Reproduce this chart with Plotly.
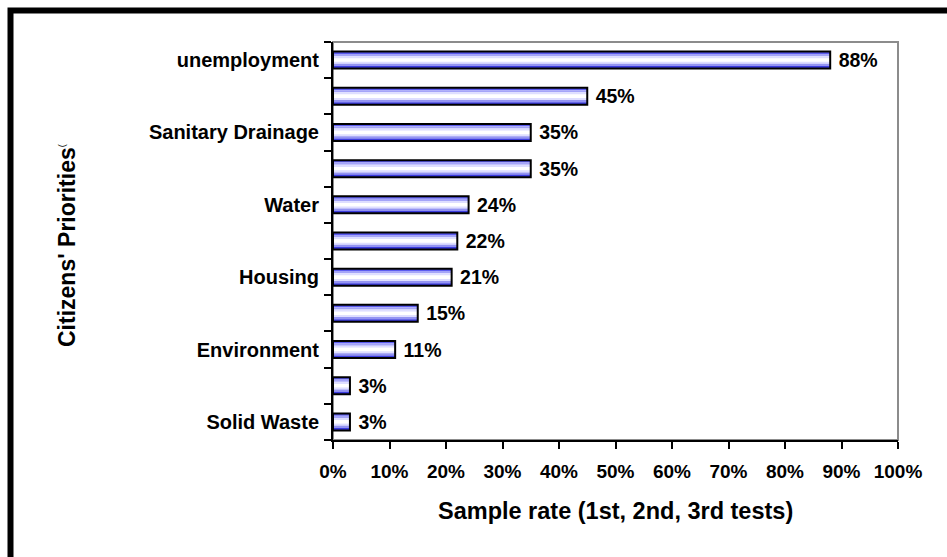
import plotly.graph_objects as go

# ---- data ----
category_ids = ["c1", "c2", "c3", "c4", "c5", "c6", "c7", "c8", "c9", "c10", "c11"]
category_labels = ["unemployment", "", "Sanitary Drainage", "", "Water", "",
                   "Housing", "", "Environment", "", "Solid Waste"]
values = [0.88, 0.45, 0.35, 0.35, 0.24, 0.22, 0.21, 0.15, 0.11, 0.03, 0.03]
x_tick_vals = [0, 0.1, 0.2, 0.3, 0.4, 0.5, 0.6, 0.7, 0.8, 0.9, 1.0]
x_title = "Sample rate (1st, 2nd, 3rd tests)"
y_title = "Citizens' Priorities"

# ---- styling ----
FONT = "Liberation Sans, Arial, sans-serif"
W = 0.47  # bar thickness in category units
# horizontal gradient stripes (top -> bottom): (start fraction, fraction, colour)
stripes = [
    (0.00, 0.14, "#5c5cf0"),
    (0.14, 0.13, "#a4a4f8"),
    (0.27, 0.13, "#dedeff"),
    (0.40, 0.20, "#ffffff"),
    (0.60, 0.12, "#dedeff"),
    (0.72, 0.13, "#9494f2"),
    (0.85, 0.15, "#3c3ce0"),
]

fig = go.Figure()
for start, frac, col in stripes:
    fig.add_trace(go.Bar(
        y=category_ids, x=values, orientation="h",
        offset=-W / 2 + start * W, width=frac * W,
        marker=dict(color=col, line=dict(width=0)),
        hoverinfo="skip", showlegend=False,
    ))

# outline + value labels
fig.add_trace(go.Bar(
    y=category_ids, x=values, orientation="h",
    offset=-W / 2, width=W,
    marker=dict(color="rgba(0,0,0,0)", line=dict(color="black", width=2)),
    texttemplate="\u00a0%{x:.0%}", textposition="outside", constraintext="none",
    textfont=dict(family=FONT, size=19.5, color="black", weight=700),
    cliponaxis=False, showlegend=False,
))

L, R, T, B = 333, 49, 42, 117
PW, PH = 947 - L - R, 557 - T - B


def px_x(p):
    return (p - L) / PW


def px_y(p):
    return 1 - (p - T) / PH


fig.update_layout(
    width=947, height=557,
    margin=dict(l=L, r=R, t=T, b=B, autoexpand=False),
    barmode="overlay",
    paper_bgcolor="white", plot_bgcolor="white",
    font=dict(family=FONT, size=19, color="black", weight=700),
    xaxis=dict(
        range=[0, 1], tickvals=x_tick_vals, tickformat=".0%",
        showgrid=False, zeroline=False,
        showline=True, linecolor="black", linewidth=2,
        ticks="outside", ticklen=7, tickwidth=2, tickcolor="black",
        ticklabelstandoff=6,
        tickfont=dict(family=FONT, size=19, color="black", weight=700),
    ),
    yaxis=dict(
        type="category", categoryorder="array", categoryarray=category_ids,
        range=[10.5, -0.5],
        tickmode="array", tickvals=category_ids, ticktext=category_labels,
        tickson="boundaries",
        showgrid=False, zeroline=False,
        showline=True, linecolor="black", linewidth=2,
        ticks="outside", ticklen=7, tickwidth=2, tickcolor="black",
        ticklabelstandoff=8,
        tickfont=dict(family=FONT, size=20, color="black", weight=700),
    ),
    shapes=[
        # thin grey plot frame (top/right)
        dict(type="rect", xref="paper", yref="paper", x0=0, x1=1, y0=0, y1=1,
             line=dict(color="#8c8c8c", width=2), layer="below"),
        # thick outer black frame
        dict(type="rect", xref="paper", yref="paper",
             x0=px_x(10.5), x1=px_x(975), y0=px_y(580), y1=px_y(10.5),
             line=dict(color="black", width=6), layer="above"),
    ],
    annotations=[
        dict(text=y_title + "<sup><span style='font-size:9px;font-weight:normal'>(</span></sup>",
             xref="paper", yref="paper", x=px_x(67), y=px_y(246),
             textangle=-90, showarrow=False, xanchor="center", yanchor="middle",
             font=dict(family=FONT, size=23, color="black", weight=700)),
        dict(text=x_title, xref="paper", yref="paper", x=0.5, y=px_y(511),
             showarrow=False, xanchor="center", yanchor="middle",
             font=dict(family=FONT, size=23.5, color="black", weight=700)),
    ],
)

fig.write_html("out.html", config={"displayModeBar": False},
               post_script="document.body.style.margin='0';")
